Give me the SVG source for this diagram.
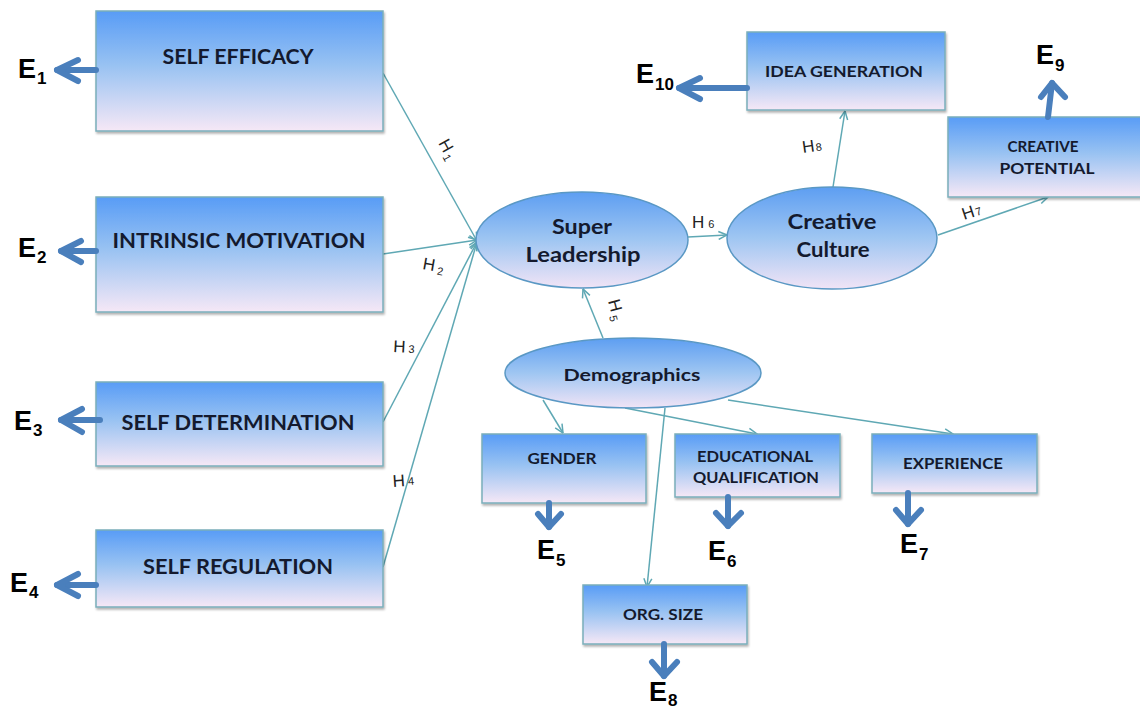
<svg xmlns="http://www.w3.org/2000/svg" width="1140" height="711" viewBox="0 0 1140 711">
<defs>
<linearGradient id="gb" x1="0" y1="0" x2="0" y2="1">
<stop offset="0" stop-color="#589cf6"/>
<stop offset="0.45" stop-color="#98c2f2"/>
<stop offset="1" stop-color="#f6e8f6"/>
</linearGradient>
<linearGradient id="ge" x1="0" y1="0" x2="0" y2="1">
<stop offset="0" stop-color="#5d9ef2"/>
<stop offset="0.5" stop-color="#9fc6f2"/>
<stop offset="1" stop-color="#f1e4f6"/>
</linearGradient>
<filter id="sh" x="-5%" y="-5%" width="110%" height="115%">
<feDropShadow dx="1" dy="2" stdDeviation="1.2" flood-color="#000" flood-opacity="0.3"/>
</filter>
<marker id="ah" viewBox="0 0 10 10" refX="9.5" refY="5" markerWidth="10" markerHeight="10" markerUnits="userSpaceOnUse" orient="auto">
<path d="M1,1 L9.5,5 L1,9" fill="none" stroke="#5fa8b4" stroke-width="1.5"/>
</marker>
</defs>
<style>
.box{fill:url(#gb);stroke:#7aaebb;stroke-width:1.5;filter:url(#sh)}
.ell{fill:url(#ge);stroke:#5a98c4;stroke-width:1.5}
.t{font-family:Lato,"Open Sans",sans-serif;font-weight:bold;fill:#141a2e;text-anchor:middle}
.e{font-family:"Liberation Sans",Arial,sans-serif;font-weight:bold;fill:#000;font-size:27px}
.es{font-family:"Liberation Sans",Arial,sans-serif;font-weight:bold;fill:#000;font-size:17px}
.h{font-family:"Liberation Sans",Arial,sans-serif;fill:#222;font-size:17px}
.hs{font-size:11px}
.c{fill:none;stroke:#5fa8b4;stroke-width:1.5;marker-end:url(#ah)}
.ta{fill:none;stroke:#4a7fbc;stroke-width:6;stroke-linecap:round;stroke-linejoin:round}
</style>

<g id="connectors">
<line class="c" x1="383" y1="73" x2="477" y2="241"/>
<line class="c" x1="383" y1="254" x2="477" y2="240"/>
<line class="c" x1="383" y1="422" x2="477" y2="242"/>
<line class="c" x1="383" y1="567" x2="477" y2="242"/>
<line class="c" x1="603" y1="338" x2="583" y2="289"/>
<line class="c" x1="688" y1="237" x2="727" y2="235"/>
<line class="c" x1="833" y1="187" x2="845" y2="111"/>
<line class="c" x1="938" y1="235" x2="1048" y2="197"/>
<line class="c" x1="543" y1="400" x2="563" y2="433"/>
<line class="c" x1="625" y1="408" x2="757" y2="434"/>
<line class="c" x1="728" y1="400" x2="953" y2="434"/>
<line class="c" x1="665" y1="408" x2="647" y2="587"/>
<text class="h" transform="translate(438,143) rotate(61)">H<tspan class="hs" dx="2" dy="3">1</tspan></text>
<text class="h" transform="translate(422,269) rotate(10)">H<tspan class="hs" dx="3" dy="3">2</tspan></text>
<text class="h" transform="translate(393,352) rotate(3)">H<tspan class="hs" dx="3" dy="0">3</tspan></text>
<text class="h" transform="translate(393,487) rotate(-4)">H<tspan class="hs" dx="3" dy="-1">4</tspan></text>
<text class="h" transform="translate(608,301) rotate(75)">H<tspan class="hs" dx="3" dy="3">5</tspan></text>
<text class="h" transform="translate(692,228)">H<tspan class="hs" dx="4" dy="0">6</tspan></text>
<text class="h" transform="translate(803,153) rotate(-8)">H<tspan class="hs" dx="1" dy="0">8</tspan></text>
<text class="h" transform="translate(964,220) rotate(-18)">H<tspan class="hs" dx="1" dy="0">7</tspan></text>
</g>

<g id="self-efficacy">
<rect class="box" x="96" y="11" width="287" height="120"/>
<text class="t" x="238" y="64" font-size="20" textLength="151" lengthAdjust="spacingAndGlyphs">SELF EFFICACY</text>
<polyline class="ta" points="96,70 57,70"/>
<polyline class="ta" points="78,60 57,70 78,81"/>
<text class="e" x="18" y="78">E</text><text class="es" x="37" y="84">1</text>
</g>

<g id="intrinsic-motivation">
<rect class="box" x="96" y="197" width="287" height="115"/>
<text class="t" x="239" y="248" font-size="20" textLength="253" lengthAdjust="spacingAndGlyphs">INTRINSIC MOTIVATION</text>
<polyline class="ta" points="96,251 61,251"/>
<polyline class="ta" points="81,241 61,251 81,262"/>
<text class="e" x="18" y="257">E</text><text class="es" x="37" y="263">2</text>
</g>

<g id="self-determination">
<rect class="box" x="96" y="382" width="287" height="84"/>
<text class="t" x="238" y="430" font-size="20" textLength="233" lengthAdjust="spacingAndGlyphs">SELF DETERMINATION</text>
<polyline class="ta" points="100,420 61,420"/>
<polyline class="ta" points="82,409 61,420 82,432"/>
<text class="e" x="14" y="430">E</text><text class="es" x="33" y="436">3</text>
</g>

<g id="self-regulation">
<rect class="box" x="96" y="530" width="287" height="77"/>
<text class="t" x="238" y="574" font-size="20" textLength="190" lengthAdjust="spacingAndGlyphs">SELF REGULATION</text>
<polyline class="ta" points="96,585 57,585"/>
<polyline class="ta" points="78,574 57,585 78,596"/>
<text class="e" x="10" y="592">E</text><text class="es" x="29" y="598">4</text>
</g>

<g id="super-leadership">
<ellipse class="ell" cx="582" cy="240" rx="106" ry="48"/>
<text class="t" x="582" y="234" font-size="21" textLength="60" lengthAdjust="spacingAndGlyphs">Super</text>
<text class="t" x="583" y="262" font-size="21" textLength="115" lengthAdjust="spacingAndGlyphs">Leadership</text>
</g>

<g id="creative-culture">
<ellipse class="ell" cx="832" cy="238" rx="105" ry="51"/>
<text class="t" x="832" y="229" font-size="21" textLength="89" lengthAdjust="spacingAndGlyphs">Creative</text>
<text class="t" x="833" y="257" font-size="21" textLength="73" lengthAdjust="spacingAndGlyphs">Culture</text>
</g>

<g id="idea-generation">
<rect class="box" x="747" y="32" width="198" height="78"/>
<text class="t" x="844" y="77" font-size="16" textLength="158" lengthAdjust="spacingAndGlyphs">IDEA GENERATION</text>
<polyline class="ta" points="747,88 679,88"/>
<polyline class="ta" points="700,78 679,88 700,99"/>
<text class="e" x="636" y="83">E</text><text class="es" x="655" y="90">10</text>
</g>

<g id="creative-potential">
<rect class="box" x="948" y="117" width="194" height="80"/>
<text class="t" x="1043" y="152" font-size="16" textLength="71" lengthAdjust="spacingAndGlyphs">CREATIVE</text>
<text class="t" x="1047" y="174" font-size="16" textLength="95" lengthAdjust="spacingAndGlyphs">POTENTIAL</text>
<polyline class="ta" points="1048,117 1052,83"/>
<polyline class="ta" points="1041,97 1052,83 1065,97"/>
<text class="e" x="1036" y="64">E</text><text class="es" x="1055" y="71">9</text>
</g>

<g id="demographics">
<ellipse class="ell" cx="633" cy="373" rx="128" ry="35"/>
<text class="t" x="632" y="381" font-size="17" textLength="137" lengthAdjust="spacingAndGlyphs">Demographics</text>
</g>

<g id="gender">
<rect class="box" x="482" y="434" width="164" height="69"/>
<text class="t" x="562" y="464" font-size="15" textLength="69" lengthAdjust="spacingAndGlyphs">GENDER</text>
<polyline class="ta" points="549,503 549,527"/>
<polyline class="ta" points="538,514 549,527 561,514"/>
<text class="e" x="537" y="559">E</text><text class="es" x="556" y="566">5</text>
</g>

<g id="educational-qualification">
<rect class="box" x="675" y="434" width="165" height="63"/>
<text class="t" x="755" y="462" font-size="15" textLength="116" lengthAdjust="spacingAndGlyphs">EDUCATIONAL</text>
<text class="t" x="756" y="483" font-size="15" textLength="126" lengthAdjust="spacingAndGlyphs">QUALIFICATION</text>
<polyline class="ta" points="728,497 728,526"/>
<polyline class="ta" points="716,513 728,526 741,513"/>
<text class="e" x="708" y="560">E</text><text class="es" x="727" y="567">6</text>
</g>

<g id="experience">
<rect class="box" x="872" y="434" width="165" height="59"/>
<text class="t" x="953" y="469" font-size="15" textLength="100" lengthAdjust="spacingAndGlyphs">EXPERIENCE</text>
<polyline class="ta" points="908,493 908,524"/>
<polyline class="ta" points="896,510 908,524 921,510"/>
<text class="e" x="900" y="553">E</text><text class="es" x="919" y="560">7</text>
</g>

<g id="org-size">
<rect class="box" x="583" y="585" width="164" height="59"/>
<text class="t" x="663" y="620" font-size="15" textLength="80" lengthAdjust="spacingAndGlyphs">ORG. SIZE</text>
<polyline class="ta" points="664,644 664,676"/>
<polyline class="ta" points="652,662 664,676 677,662"/>
<text class="e" x="649" y="701">E</text><text class="es" x="668" y="706">8</text>
</g>
</svg>
